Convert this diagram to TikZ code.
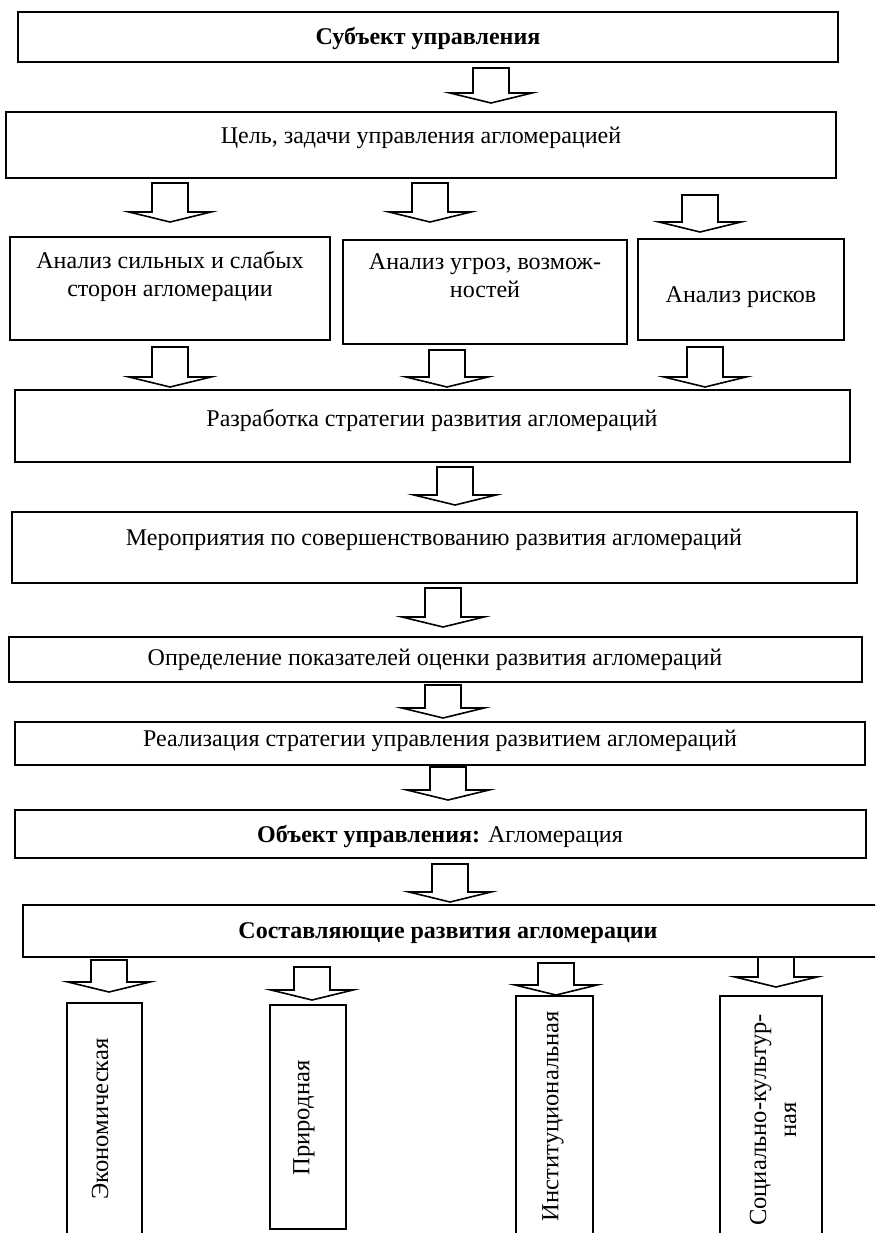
\documentclass[tikz,border=0pt]{standalone}
\usepackage{fontspec}
\setmainfont{Liberation Serif}
\usetikzlibrary{fit}

\begin{document}
\begin{tikzpicture}[x=0.5pt,y=-0.5pt,font=\fontsize{12}{14}\selectfont,
    pics/downarr/.style={code={
        \draw[line width=0.8pt] (-18,0) -- (18,0) -- (18,#1-10) -- (41,#1-10) -- (0,#1)
            -- (-41,#1-10) -- (-18,#1-10) -- cycle;}}]

\tikzstyle{box}=[draw,line width=1pt,inner sep=0pt]
\tikzstyle{txt}=[align=center,inner sep=0pt]
\tikzstyle{vtxt}=[txt,rotate=90,font=\fontsize{12.3}{15}\selectfont]

    \clip (0,0) rectangle (875,1233);

    \node[box,fit={(18,12) (838,62)}]     (subj) {};
    \node[box,fit={(6,112) (836,178)}]    (goal) {};
    \node[box,fit={(10,237) (330,340)}]   (swot) {};
    \node[box,fit={(343,240) (627,344)}]  (threat) {};
    \node[box,fit={(638,239) (844,340)}]  (risk) {};
    \node[box,fit={(15,390) (850,462)}]   (strat) {};
    \node[box,fit={(12,512) (857,583)}]   (measure) {};
    \node[box,fit={(9,637) (862,682)}]    (index) {};
    \node[box,fit={(15,722) (865,765)}]   (impl) {};
    \node[box,fit={(15,810) (866,858)}]   (obj) {};
    \node[box,fit={(23,905) (885,957)}]   (parts) {};
    \node[box,fit={(67,1003) (142,1245)}] (econ) {};
    \node[box,fit={(270,1005) (346,1229)}] (nat) {};
    \node[box,fit={(516,996) (593,1245)}] (inst) {};
    \node[box,fit={(720,996) (822,1245)}] (soc) {};

    \node[txt,font=\fontsize{12}{14}\bfseries] (subjT) at (428,38) {Субъект управления};
    \node[txt] (goalT) at (421,138) {Цель, задачи управления агломерацией};
    \node[txt] (swotT) at (170,276) {Анализ сильных и слабых\\сторон агломерации};
    \node[txt] (threatT) at (485,276) {Анализ угроз, возмож-\\ностей};
    \node[txt] (riskT) at (741,297) {Анализ рисков};
    \node[txt] (stratT) at (432,420) {Разработка стратегии развития агломераций};
    \node[txt] (measureT) at (434,540) {Мероприятия по совершенствованию развития агломераций};
    \node[txt] (indexT) at (435,660) {Определение показателей оценки развития агломераций};
    \node[txt] (implT) at (440,741) {Реализация стратегии управления развитием агломераций};
    \node[txt] (objT) at (440,836) {\textbf{Объект управления:} Агломерация};
    \node[txt,font=\fontsize{12}{14}\bfseries] (partsT) at (448,933) {Составляющие развития агломерации};

    \node[vtxt] (econT) at (100,1119) {Экономическая};
    \node[vtxt] (natT) at (304,1118) {Природная};
    \node[vtxt] (instT) at (553,1116) {Институциональная};
    \node[vtxt] (socT) at (773,1120) {Социально-культур-\\ная};

    \pic at (491,68) {downarr=35};
    \pic at (170,183) {downarr=39};
    \pic at (430,183) {downarr=39};
    \pic at (700,195) {downarr=37};
    \pic at (170,347) {downarr=40};
    \pic at (447,350) {downarr=37};
    \pic at (705,347) {downarr=40};
    \pic at (455,467) {downarr=38};
    \pic at (443,588) {downarr=39};
    \pic at (443,685) {downarr=33};
    \pic at (448,767) {downarr=33};
    \pic at (450,864) {downarr=38};
    \pic at (109,960) {downarr=32};
    \pic at (312,967) {downarr=33};
    \pic at (556,963) {downarr=32};
    \pic at (776,957) {downarr=30};

\end{tikzpicture}
\end{document}
